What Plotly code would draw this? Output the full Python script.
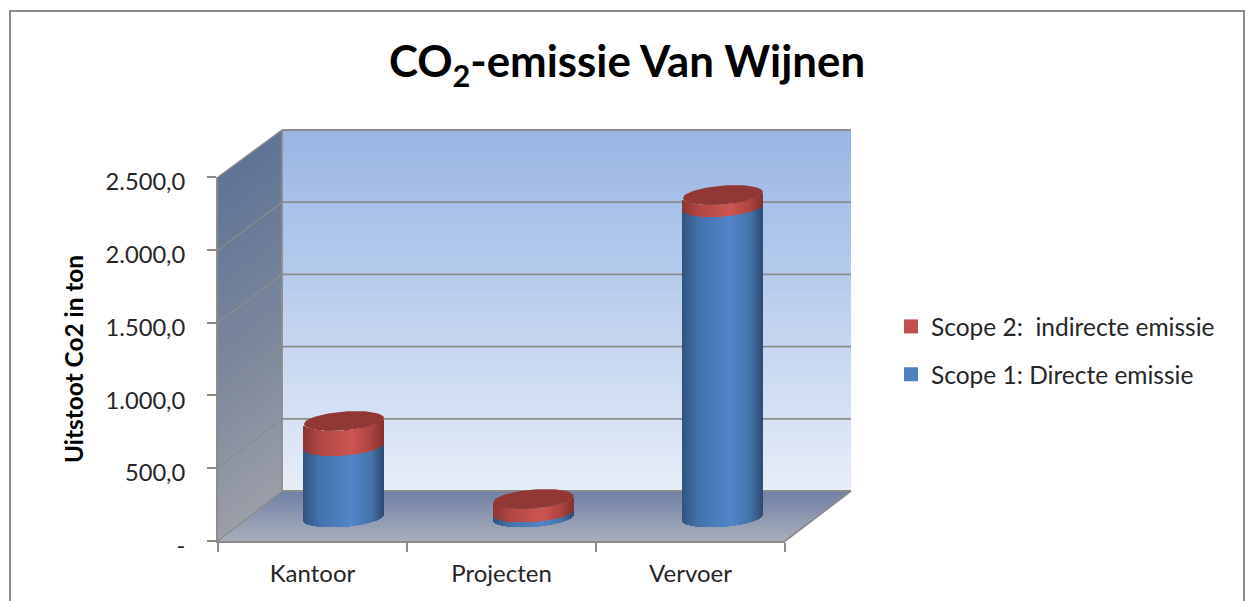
import numpy as np
import plotly.graph_objects as go

categories = ["Kantoor", "Projecten", "Vervoer"]
scope1_direct = [495, 35, 2150]
scope2_indirect = [173, 93, 83]
y_ticks = [0, 500, 1000, 1500, 2000, 2500]
y_tick_labels = ["-", "500,0", "1.000,0", "1.500,0", "2.000,0", "2.500,0"]
name1 = "Scope 1: Directe emissie"
name2 = "Scope 2:  indirecte emissie"

W, H = 1248, 601
FONT = "Lato"
GRID = "#8c8c8c"

# projected box of the 3D chart, in page pixels
FX0, FX1, FY0, FY1 = 218, 785, 541, 177      # front plane
BX0, BX1, BY0, BY1 = 282, 851, 491, 130      # back plane
MID_X0, MID_DX, MID_Y0 = 344, 189.5, 517.5   # plane of the cylinders
SCALE = (BY0 - BY1) / 2500
R_PX, B_PX, TILT_PX = 40, 9.5, 3.0


def px(x):
    return x / W


def py(y):
    return 1 - y / H


def lerp(stops, t):
    ts = [s[0] for s in stops]
    return "rgb(%d,%d,%d)" % tuple(np.interp(t, ts, [s[1][i] for s in stops]) for i in range(3))


def poly(pts, color):
    d = "M" + " L".join(f"{px(a):.5f},{py(b):.5f}" for a, b in pts) + " Z"
    return dict(type="path", path=d, xref="paper", yref="paper", layer="below",
                fillcolor=color, line_width=0)


def seg(a, b, c, d, w=1.8):
    return dict(type="line", xref="paper", yref="paper", layer="below",
                x0=px(a), y0=py(b), x1=px(c), y1=py(d), line=dict(color=GRID, width=w))


shapes = []
# back wall
back = [(0, (155, 182, 228)), (.3, (175, 199, 236)), (.7, (207, 221, 242)), (1, (231, 238, 248))]
for t in np.linspace(0, 1, 60, endpoint=False):
    y = BY1 + t * (BY0 - BY1)
    shapes.append(poly([(BX0, y), (BX1, y), (BX1, BY0), (BX0, BY0)], lerp(back, t)))
# left wall
side = [(0, (96, 116, 150)), (.5, (122, 134, 156)), (1, (156, 159, 168))]
for t in np.linspace(0, 1, 60, endpoint=False):
    a, b = FY1 + t * (FY0 - FY1), BY1 + t * (BY0 - BY1)
    shapes.append(poly([(FX0, a), (BX0, b), (BX0, BY0), (FX0, FY0)], lerp(side, t)))
# floor
floor = [(0, (112, 130, 166)), (.5, (142, 152, 176)), (1, (170, 175, 190))]
for t in np.linspace(0, 1, 30, endpoint=False):
    y = BY0 + t * (FY0 - BY0)
    xl = BX0 + t * (FX0 - BX0)
    xr = BX1 + t * (FX1 - BX1)
    shapes.append(poly([(xl, y), (xr, y), (FX1, FY0), (FX0, FY0)], lerp(floor, t)))
# grid lines on the walls
for v in y_ticks:
    yb = BY0 - v * SCALE
    yf = FY0 - v * (FY0 - FY1) / 2500
    shapes.append(seg(BX0, yb, BX1, yb))
    shapes.append(seg(FX0, yf, BX0, yb, 1.3))
shapes.append(seg(BX0, BY1, BX0, BY0))
shapes.append(seg(FX1, FY0, BX1, BY0))
# chart frame, cut off by the bottom of the picture
shapes.append(dict(type="path", path=f"M{px(10)},{py(H+5)} L{px(10)},{py(11)} L{px(1244)},{py(11)} L{px(1244)},{py(H+5)}",
                   xref="paper", yref="paper", layer="below", line=dict(color="#8c8c8c", width=2)))

# cylinders: narrow slices across the width give the shading and the curved edges
N = 80
ts = (np.arange(N) + 0.5) / N * 2 - 1
rx = R_PX / MID_DX
blue = [(0, (48, 84, 128)), (.2, (68, 114, 170)), (.6, (82, 134, 202)), (.85, (70, 116, 172)), (1, (46, 76, 116))]
red = [(0, (140, 54, 50)), (.2, (175, 70, 66)), (.6, (206, 86, 82)), (.85, (172, 68, 64)), (1, (134, 50, 46))]
curve = (TILT_PX * ts - B_PX * np.sqrt(1 - ts ** 2)) / SCALE


def slices(bottoms, values, stops):
    xs, ys, bs, cs = [], [], [], []
    for i in range(len(categories)):
        xs += list(i + ts * rx)
        ys += [values[i]] * N
        bs += list(bottoms[i] + curve)
        cs += [lerp(stops, (t + 1) / 2) for t in ts]
    return dict(x=xs, y=ys, base=bs, width=rx * 2 / N * 1.15,
                marker=dict(color=cs, line_width=0), xaxis="x2", yaxis="y2",
                showlegend=False, hoverinfo="skip")


fig = go.Figure()
# carries the category axis of the front plane
fig.add_trace(go.Scatter(x=categories, y=[0, 0, 0], mode="markers", marker=dict(opacity=0),
                         showlegend=False, hoverinfo="skip"))
fig.add_trace(go.Bar(**slices([0, 0, 0], scope1_direct, blue)))
fig.add_trace(go.Bar(**slices(scope1_direct, scope2_indirect, red)))

# top caps
th = np.linspace(0, 2 * np.pi, 73)
cx, cy = [], []
for i in range(len(categories)):
    top = scope1_direct[i] + scope2_indirect[i]
    cx += list(i + rx * np.cos(th)) + [None]
    cy += list(top + (TILT_PX * np.cos(th) + B_PX * np.sin(th)) / SCALE) + [None]
fig.add_trace(go.Scatter(x=cx, y=cy, mode="lines", fill="toself", fillcolor="rgb(146,56,52)",
                         line=dict(width=0), xaxis="x2", yaxis="y2", showlegend=False, hoverinfo="skip"))

# legend entries
for nm, col in ((name2, "#C0504D"), (name1, "#4F81BD")):
    fig.add_trace(go.Scatter(x=[None], y=[None], mode="markers", name=nm, legendgroup=nm,
                             marker=dict(symbol="square", size=14, color=col)))

axis_line = dict(showline=True, linecolor=GRID, linewidth=2, ticks="outside", tickcolor=GRID,
                 tickwidth=2, ticklen=9, showgrid=False, zeroline=False, automargin=False)
fig.update_layout(
    template="none",
    width=W, height=H, margin=dict(l=0, r=0, t=0, b=0),
    paper_bgcolor="white", plot_bgcolor="rgba(0,0,0,0)",
    font=dict(family=FONT, size=24, color="#262626"),
    barmode="overlay", bargap=0, shapes=shapes,
    title=dict(text="<b>CO<sub>2</sub>-emissie Van Wijnen</b>", xref="paper", yref="paper",
               x=627 / W, xanchor="center", y=py(62), yanchor="middle",
               font=dict(family=FONT, size=43.8, color="black")),
    xaxis=dict(domain=[px(FX0), px(FX1)], type="category", categoryarray=categories,
               categoryorder="array", range=[-0.5, 2.5], tickson="boundaries",
               ticklabelstandoff=10, tickfont=dict(size=24), **axis_line),
    yaxis=dict(domain=[py(FY0), py(FY1)], range=[0, 2500], tickvals=y_ticks, ticktext=y_tick_labels,
               ticklabelstandoff=17, ticklabelshift=5, tickfont=dict(size=23.7),
               title=dict(text="<b>Uitstoot Co2 in ton</b>", standoff=15, font=dict(size=24.4, color="black")),
               **axis_line),
    # overlaying axes share the domain of the axes they overlay
    xaxis2=dict(overlaying="x", anchor="y2", visible=False, automargin=False,
                range=[(FX0 - MID_X0) / MID_DX, (FX1 - MID_X0) / MID_DX]),
    yaxis2=dict(overlaying="y", anchor="x2", visible=False, automargin=False,
                range=[(MID_Y0 - FY0) / SCALE, (MID_Y0 - FY1) / SCALE]),
    legend=dict(x=px(891), xanchor="left", y=py(327 - 23), yanchor="top", tracegroupgap=13,
                font=dict(size=24.5), bgcolor="rgba(0,0,0,0)", itemclick=False, itemdoubleclick=False),
)
fig.write_html("out.html", config={"displayModeBar": False},
               post_script="document.body.style.margin='0';document.documentElement.style.overflow='hidden';")
